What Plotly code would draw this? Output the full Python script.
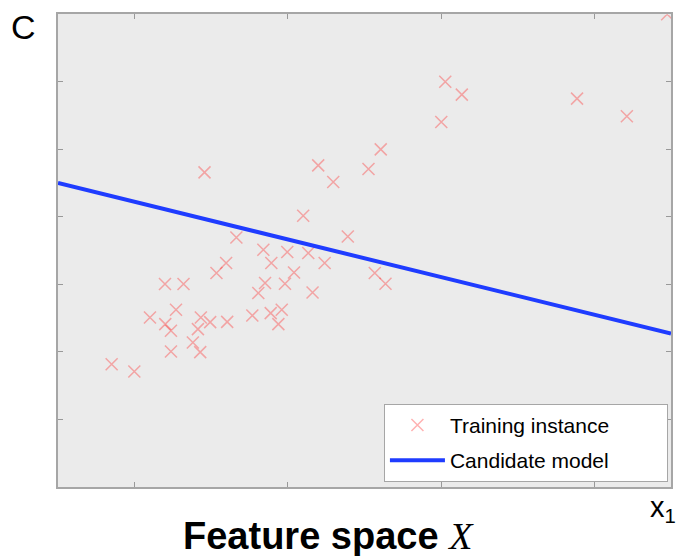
import plotly.graph_objects as go

# Training instances (feature x1, feature x2)
train_x = [0.350, 0.498, 0.600, 0.698, 0.700, 0.737, 0.737, 0.770, 0.819, 0.880,
           0.913, 0.928, 0.932, 0.956, 0.993, 1.034, 1.097, 1.104, 1.164, 1.268,
           1.307, 1.340, 1.351, 1.392, 1.388, 1.438, 1.460, 1.481, 1.496, 1.540,
           1.600, 1.633, 1.661, 1.698, 1.740, 1.796, 1.891, 2.026, 2.067, 2.106,
           2.137, 2.501, 2.527, 2.635, 3.387, 3.712, 3.975]
train_y = [1.818, 1.708, 2.508, 3.003, 2.410, 2.311, 2.004, 2.622, 3.003, 2.138,
           2.336, 1.996, 2.508, 4.656, 2.440, 3.166, 3.314, 2.444, 3.693, 2.538,
           2.870, 3.511, 3.018, 3.314, 2.573, 2.410, 2.622, 3.007, 3.477, 3.175,
           4.015, 3.462, 2.879, 4.760, 3.314, 4.514, 3.708, 4.707, 3.166, 4.997,
           3.007, 5.403, 5.996, 5.807, 5.748, 5.486, 6.997]

# Candidate model (straight line)
model_x = [0.0, 4.0]
model_y = [4.50, 2.27]

x_ticks = [0.5, 1.5, 2.5, 3.5]
y_ticks = [1, 2, 3, 4, 5, 6]

PAD = "\u00a0" * 9

fig = go.Figure()
fig.add_trace(go.Scatter(
    x=train_x, y=train_y, mode="markers", name="Training instance" + PAD,
    legendgroup="a",
    marker=dict(symbol="x-thin", size=12,
                line=dict(width=1.5, color="rgba(255,40,40,0.36)"),
                color="rgba(255,40,40,0.36)"),
))
fig.add_trace(go.Scatter(
    x=model_x, y=model_y, mode="lines", name="Candidate model" + PAD,
    legendgroup="b",
    line=dict(color="#1f3cff", width=4),
))

axis_common = dict(
    showgrid=False, zeroline=False, showticklabels=False,
    ticks="inside", ticklen=5, tickwidth=1, tickcolor="#999999",
    showline=True, linecolor="#a6a6a6", linewidth=1.5, mirror="ticks",
)
fig.update_xaxes(range=[0, 4], tickvals=x_ticks, **axis_common)
fig.update_yaxes(range=[0, 7], tickvals=y_ticks, **axis_common)

fig.update_layout(
    width=681, height=556,
    margin=dict(l=58, r=8, t=14, b=69),
    plot_bgcolor="#ebebeb", paper_bgcolor="white",
    font=dict(family="Liberation Sans, Arial, sans-serif", color="black"),
    showlegend=True,
    legend=dict(
        x=0.995, xanchor="right", y=0.011, yanchor="bottom",
        bgcolor="white", bordercolor="#a6a6a6", borderwidth=1,
        font=dict(size=21, family="Liberation Sans, Arial, sans-serif"),
        tracegroupgap=5, itemwidth=55,
    ),
    annotations=[
        dict(text="C", xref="paper", yref="paper", x=-0.056, y=0.972,
             xanchor="center", yanchor="middle", showarrow=False,
             font=dict(size=34)),
        dict(text="<b>Feature space</b> <span style='font-family:Liberation Serif, Times New Roman, serif;font-style:italic'>X</span>",
             xref="paper", yref="paper", x=0.442, y=-0.103,
             xanchor="center", yanchor="middle", showarrow=False,
             font=dict(size=38)),
        dict(text="x<sub>1</sub>", xref="paper", yref="paper", x=0.963, y=-0.005,
             xanchor="left", yanchor="top", showarrow=False,
             font=dict(size=29)),
    ],
)

fig.write_html("out.html")
